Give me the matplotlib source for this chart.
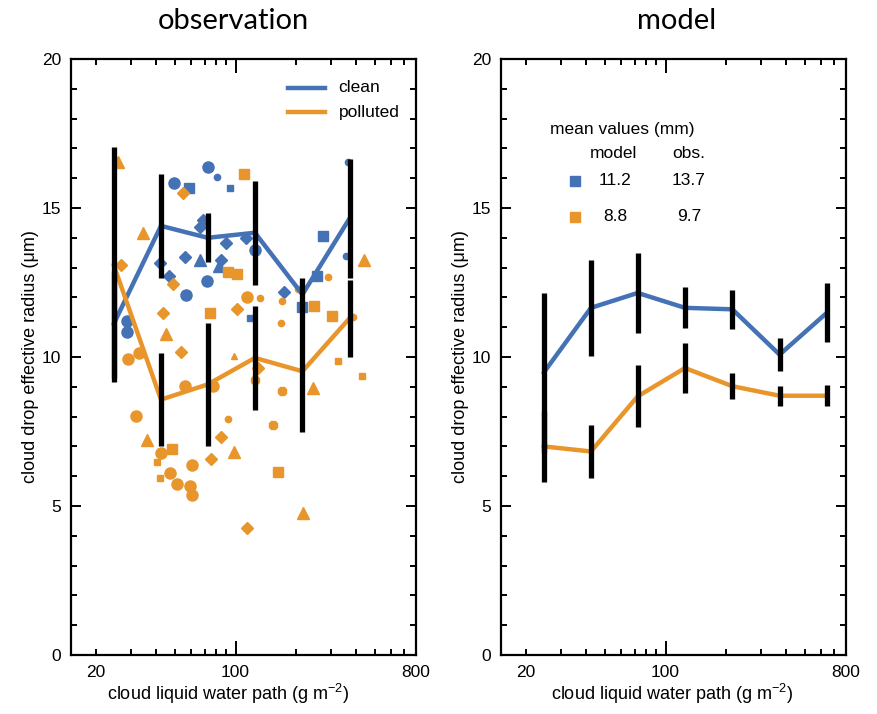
import matplotlib
matplotlib.use("Agg")
import matplotlib.pyplot as plt
from matplotlib.ticker import FixedLocator, FixedFormatter

plt.rcParams['font.family'] = ['Liberation Sans', 'DejaVu Sans']
plt.rcParams['mathtext.fontset'] = 'custom'
plt.rcParams['mathtext.rm'] = 'Liberation Sans'
plt.rcParams['mathtext.default'] = 'regular'

BLUE = '#4472b4'
ORANGE = '#e8962c'

# liquid water path bin centres (g m-2)
obs_lwp = [24.5, 42.3, 72.5, 125, 216, 372]
model_lwp = [24.5, 42.3, 72.5, 125, 216, 372, 643]

# observed bin means and spread of effective radius (um)
obs_clean_re = [11.1, 14.4, 14.0, 14.17, 12.1, 14.65]
obs_clean_err = [1.8, 1.75, 0.82, 1.75, 0.55, 2.0]
obs_poll_re = [13.1, 8.57, 9.08, 9.97, 9.52, 11.3]
obs_poll_err = [3.95, 1.57, 2.05, 1.74, 2.05, 1.3]

# modelled bin means and spread
model_clean_re = [9.47, 11.65, 12.15, 11.65, 11.6, 10.08, 11.49]
model_clean_err = [2.68, 1.6, 1.33, 0.69, 0.66, 0.55, 1.0]
model_poll_re = [7.0, 6.83, 8.68, 9.63, 9.02, 8.7, 8.7]
model_poll_err = [1.2, 0.88, 1.04, 0.84, 0.44, 0.33, 0.36]

# individual cases, kind = campaign symbol
clean_lwp = [72.5, 49.3, 71.7, 56.2, 28.5, 28.5, 125.0,
             81.0, 366.4, 355.6,
             58.2, 274.8, 256.4, 214.9,
             93.7, 118.7,
             66.3, 68.4, 89.8, 55.8, 84.5, 42.0, 46.2, 174.6, 112.3,
             66.3, 82.6]
clean_re = [16.37, 15.83, 12.55, 12.08, 11.21, 10.85, 13.59,
            16.05, 16.53, 13.39,
            15.68, 14.06, 12.72, 11.68,
            15.68, 11.30,
            14.37, 14.60, 13.81, 13.37, 13.26, 13.14, 12.72, 12.17, 13.98,
            13.26, 13.05]
clean_kind = (['circle'] * 7 + ['dot'] * 3 + ['square'] * 4 + ['smallsq'] * 2
              + ['diamond'] * 9 + ['triangle'] * 2)

poll_lwp = [25.9, 34.5, 45.0, 36.1, 98.4, 243.1, 216.6, 439.2,
            98.4,
            54.7, 26.7, 48.4, 43.5, 101.6, 53.3, 84.5, 75.0, 114.4, 129.9,
            110.1, 91.1, 101.6, 74.4, 246.7, 302.7, 162.4, 47.9,
            40.3, 41.8, 326.5, 427.7,
            29.0, 32.8, 55.8, 77.3, 31.7, 42.2, 60.7, 46.9, 50.9, 59.3, 60.7, 114.4,
            132.9, 171.3, 168.7, 205.9, 289.0, 388.2, 91.9,
            125.0, 171.3, 154.4]
poll_re = [16.55, 14.15, 10.77, 7.21, 6.82, 8.97, 4.76, 13.26,
           10.03,
           15.49, 13.09, 12.45, 11.47, 11.60, 10.16, 7.33, 6.58, 4.25, 9.62,
           16.14, 12.86, 12.80, 11.47, 11.71, 11.38, 6.13, 6.90,
           6.49, 5.93, 9.88, 9.35,
           9.93, 10.12, 9.04, 9.04, 8.03, 6.77, 6.38, 6.12, 5.73, 5.67, 5.37, 12.00,
           11.98, 11.89, 11.13, 12.27, 12.70, 11.35, 7.92,
           9.23, 8.87, 7.72]
poll_kind = (['triangle'] * 8 + ['smalltri'] + ['diamond'] * 10 + ['square'] * 8
             + ['smallsq'] * 4 + ['circle'] * 12 + ['dot'] * 7 + ['star'] * 3)

mean_rows = [('11.2', '13.7'), ('8.8', '9.7')]

symbols = {'circle': ('o', 8), 'dot': ('o', 4.5), 'square': ('s', 7.5),
           'smallsq': ('s', 4.5), 'diamond': ('D', 6.5), 'triangle': ('^', 9),
           'smalltri': ('^', 5), 'star': ('8', 7)}


def style_axes(ax, xlabel_x):
    ax.set_xscale('log')
    ax.set_xlim(15, 800)
    ax.set_ylim(0, 20)
    ax.xaxis.set_major_locator(FixedLocator([100]))
    ax.xaxis.set_major_formatter(FixedFormatter(['100']))
    minors = [20, 30, 40, 50, 60, 70, 80, 90, 200, 300, 400, 500, 600, 700, 800]
    ax.xaxis.set_minor_locator(FixedLocator(minors))
    ax.xaxis.set_minor_formatter(FixedFormatter(['20'] + [''] * 13 + ['800']))
    ax.set_yticks([0, 5, 10, 15, 20])
    ax.set_yticks(range(0, 21), minor=True)
    ax.tick_params(which='both', direction='in', top=True, right=True,
                   labelsize=12.5, width=1.4, pad=7)
    ax.tick_params(which='major', length=7)
    ax.tick_params(which='minor', length=4)
    ax.tick_params(axis='x', which='major', length=10)
    for s in ax.spines.values():
        s.set_linewidth(1.6)
    ax.set_xlabel('cloud liquid water path (g m$^{-2}$)', fontsize=13)
    ax.xaxis.set_label_coords(xlabel_x, -0.045)
    ax.set_ylabel('cloud drop effective radius (\u03bcm)', fontsize=13)
    ax.yaxis.set_label_coords(-0.094, 0.5)


def draw_bins(ax, x, re, err, color):
    ax.plot(x, re, color=color, lw=3.2, zorder=3, solid_capstyle='round')
    lo = [r - e for r, e in zip(re, err)]
    hi = [r + e for r, e in zip(re, err)]
    ax.vlines(x, lo, hi, color='black', lw=3.8, zorder=4)


fig = plt.figure(figsize=(8.77, 7.14), dpi=100)
ax1 = fig.add_axes([71 / 877, 1 - 655 / 714, 345 / 877, 596 / 714])
ax2 = fig.add_axes([501 / 877, 1 - 655 / 714, 345 / 877, 596 / 714])

# observation panel
for lwp, re, kind, col in [(clean_lwp, clean_re, clean_kind, BLUE),
                           (poll_lwp, poll_re, poll_kind, ORANGE)]:
    for k in symbols:
        xs = [a for a, kk in zip(lwp, kind) if kk == k]
        ys = [b for b, kk in zip(re, kind) if kk == k]
        if xs:
            m, ms = symbols[k]
            ax1.plot(xs, ys, ls='none', marker=m, ms=ms, color=col,
                     mec=col, zorder=2)

draw_bins(ax1, obs_lwp, obs_clean_re, obs_clean_err, BLUE)
draw_bins(ax1, obs_lwp, obs_poll_re, obs_poll_err, ORANGE)
style_axes(ax1, 0.455)

for yy, lab, col in [(0.952, 'clean', BLUE), (0.911, 'polluted', ORANGE)]:
    ax1.plot([0.629, 0.736], [yy, yy], color=col, lw=3.2, transform=ax1.transAxes)
    ax1.text(0.776, yy, lab, transform=ax1.transAxes, va='center', ha='left',
             fontsize=12.5)

# model panel
draw_bins(ax2, model_lwp, model_clean_re, model_clean_err, BLUE)
draw_bins(ax2, model_lwp, model_poll_re, model_poll_err, ORANGE)
style_axes(ax2, 0.497)

ax2.text(0.142, 0.881, 'mean values (mm)', transform=ax2.transAxes,
         ha='left', va='center', fontsize=12.5)
ax2.text(0.326, 0.842, 'model', transform=ax2.transAxes, ha='center',
         va='center', fontsize=12.5)
ax2.text(0.545, 0.842, 'obs.', transform=ax2.transAxes, ha='center',
         va='center', fontsize=12.5)
for yy, (mv, ov), col in zip([0.796, 0.735], mean_rows, [BLUE, ORANGE]):
    ax2.plot([0.2145], [yy], marker='s', ms=7, color=col, transform=ax2.transAxes)
    ax2.text(0.330, yy, mv, transform=ax2.transAxes, ha='center', va='center',
             fontsize=12.5)
    ax2.text(0.545, yy, ov, transform=ax2.transAxes, ha='center', va='center',
             fontsize=12.5)

fig.text(233 / 877, 1 - 21 / 714, 'observation', ha='center', va='center',
         fontsize=21, family=['Lato', 'DejaVu Sans'])
fig.text(677 / 877, 1 - 21 / 714, 'model', ha='center', va='center',
         fontsize=21, family=['Lato', 'DejaVu Sans'])

fig.savefig('out.png', dpi=100)
